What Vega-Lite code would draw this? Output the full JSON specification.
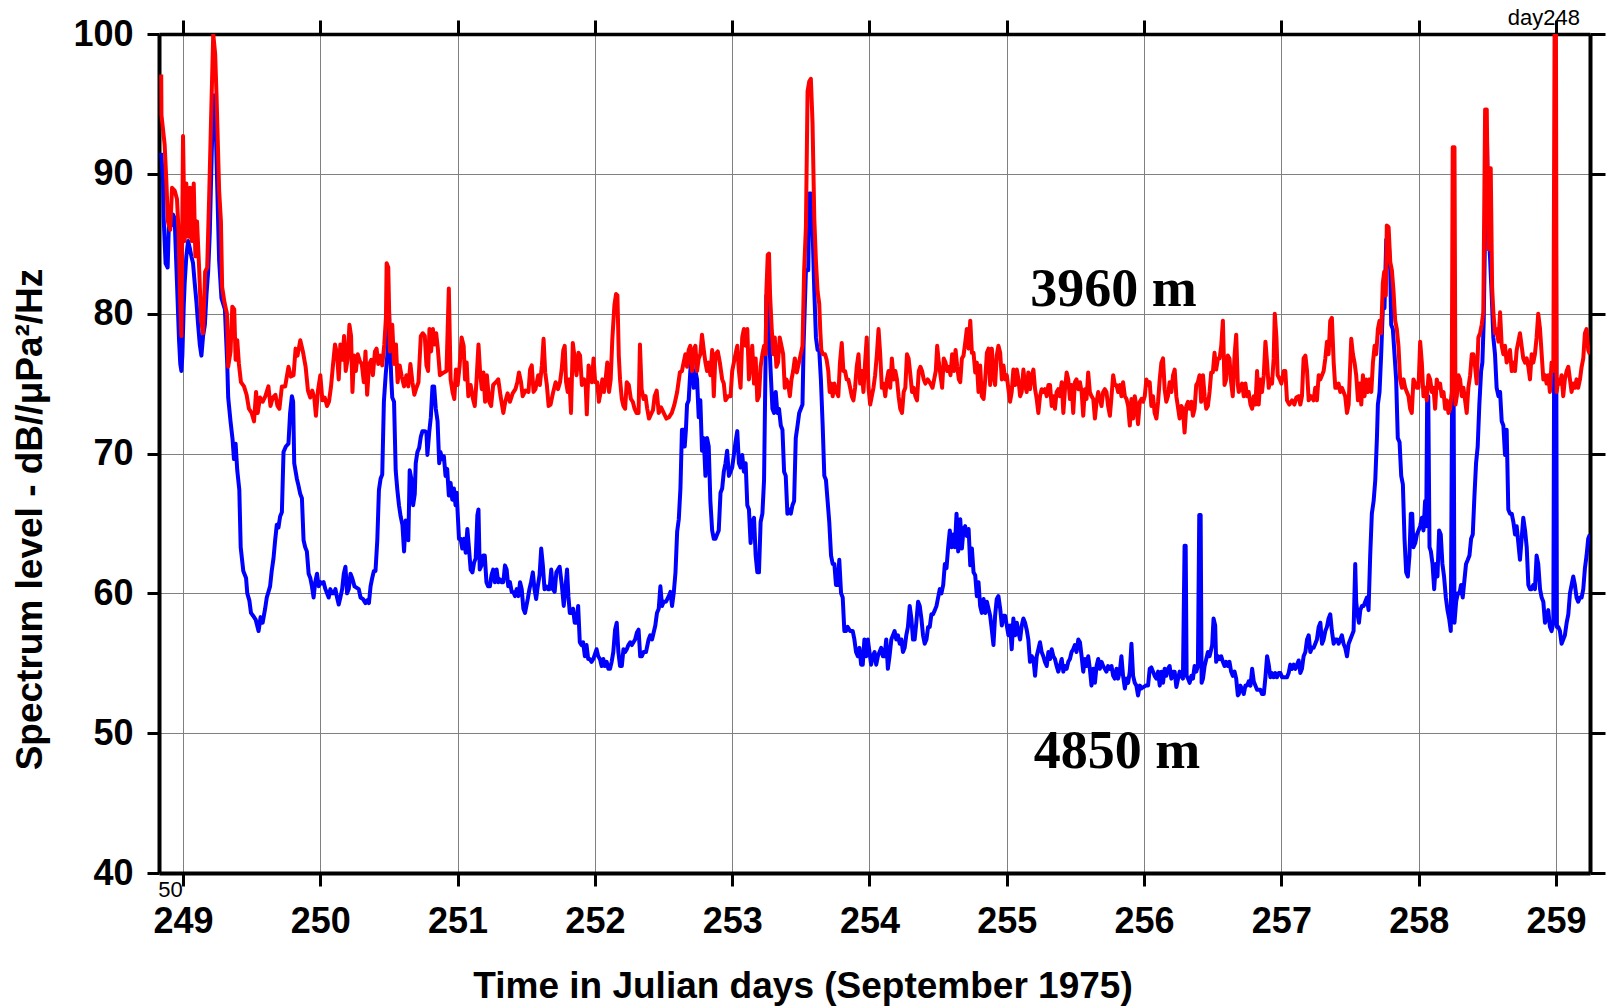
{
"$schema":"https://vega.github.io/schema/vega-lite/v6.json",
"width":1431,"height":839,
"autosize":{"type":"none"},
"padding":{"left":159,"top":34,"right":18,"bottom":133},
"background":"white",
"config":{"view":{"stroke":null},"font":"Liberation Sans"},
"datasets":{
"deep":[
{"t":248.841,"v":91.5},{"t":248.854,"v":89.6},{"t":248.859,"v":86.8},{"t":248.873,"v":83.6},{"t":248.888,"v":83.3},{"t":248.898,"v":86.8},{"t":248.915,"v":86.3},{"t":248.927,"v":87.1},{"t":248.939,"v":86.8},{"t":248.946,"v":84.9},{"t":248.956,"v":82.2},{"t":248.971,"v":78.1},{"t":248.980,"v":76.4},{"t":248.988,"v":75.9},{"t":248.995,"v":77.0},{"t":249.005,"v":80.5},{"t":249.012,"v":82.2},{"t":249.024,"v":84.1},{"t":249.037,"v":85.2},{"t":249.049,"v":84.7},{"t":249.061,"v":84.1},{"t":249.073,"v":83.6},{"t":249.085,"v":82.2},{"t":249.098,"v":80.8},{"t":249.110,"v":79.2},{"t":249.122,"v":77.8},{"t":249.134,"v":77.0},{"t":249.146,"v":78.4},{"t":249.159,"v":79.2},{"t":249.171,"v":81.4},{"t":249.183,"v":83.0},{"t":249.195,"v":85.8},{"t":249.207,"v":90.7},{"t":249.220,"v":95.6},{"t":249.234,"v":95.6},{"t":249.241,"v":92.3},{"t":249.263,"v":83.8},{"t":249.280,"v":81.1},{"t":249.305,"v":80.3},{"t":249.322,"v":76.4},{"t":249.329,"v":74.0},{"t":249.346,"v":72.3},{"t":249.361,"v":71.0},{"t":249.371,"v":69.6},{"t":249.383,"v":70.7},{"t":249.395,"v":68.8},{"t":249.410,"v":67.4},{"t":249.420,"v":63.3},{"t":249.439,"v":61.6},{"t":249.459,"v":61.1},{"t":249.468,"v":60.0},{"t":249.483,"v":59.5},{"t":249.495,"v":58.6},{"t":249.510,"v":58.4},{"t":249.530,"v":58.1},{"t":249.550,"v":57.3},{"t":249.565,"v":58.3},{"t":249.580,"v":57.9},{"t":249.598,"v":58.9},{"t":249.610,"v":59.7},{"t":249.634,"v":60.5},{"t":249.646,"v":61.6},{"t":249.659,"v":62.5},{"t":249.671,"v":63.8},{"t":249.683,"v":64.9},{"t":249.695,"v":64.7},{"t":249.707,"v":65.5},{"t":249.720,"v":65.8},{"t":249.732,"v":70.1},{"t":249.749,"v":70.5},{"t":249.768,"v":70.7},{"t":249.780,"v":72.9},{"t":249.793,"v":74.1},{"t":249.802,"v":73.7},{"t":249.810,"v":69.3},{"t":249.829,"v":68.2},{"t":249.841,"v":67.7},{"t":249.854,"v":67.1},{"t":249.866,"v":66.8},{"t":249.878,"v":63.8},{"t":249.890,"v":63.3},{"t":249.902,"v":63.0},{"t":249.915,"v":61.4},{"t":249.927,"v":61.1},{"t":249.939,"v":60.5},{"t":249.951,"v":59.7},{"t":249.963,"v":60.8},{"t":249.976,"v":61.4},{"t":249.988,"v":60.5},{"t":250.000,"v":60.8},{"t":250.012,"v":60.7},{"t":250.024,"v":60.8},{"t":250.037,"v":60.3},{"t":250.049,"v":60.0},{"t":250.061,"v":59.7},{"t":250.073,"v":60.3},{"t":250.085,"v":60.0},{"t":250.098,"v":60.0},{"t":250.110,"v":60.3},{"t":250.122,"v":59.7},{"t":250.134,"v":59.2},{"t":250.146,"v":59.7},{"t":250.159,"v":60.3},{"t":250.171,"v":61.4},{"t":250.183,"v":61.9},{"t":250.195,"v":60.0},{"t":250.207,"v":60.3},{"t":250.220,"v":61.4},{"t":250.232,"v":61.1},{"t":250.249,"v":60.5},{"t":250.280,"v":60.3},{"t":250.293,"v":59.7},{"t":250.310,"v":59.6},{"t":250.329,"v":59.3},{"t":250.341,"v":59.5},{"t":250.354,"v":59.3},{"t":250.366,"v":60.5},{"t":250.378,"v":61.1},{"t":250.390,"v":61.6},{"t":250.402,"v":61.6},{"t":250.415,"v":63.8},{"t":250.427,"v":67.4},{"t":250.439,"v":68.2},{"t":250.451,"v":68.5},{"t":250.463,"v":73.7},{"t":250.476,"v":75.6},{"t":250.488,"v":77.0},{"t":250.500,"v":80.3},{"t":250.507,"v":78.1},{"t":250.517,"v":75.3},{"t":250.524,"v":74.0},{"t":250.537,"v":73.7},{"t":250.549,"v":68.8},{"t":250.561,"v":67.4},{"t":250.573,"v":66.3},{"t":250.585,"v":65.5},{"t":250.598,"v":64.9},{"t":250.610,"v":63.0},{"t":250.622,"v":65.2},{"t":250.634,"v":64.7},{"t":250.641,"v":63.8},{"t":250.651,"v":68.8},{"t":250.663,"v":68.2},{"t":250.676,"v":66.3},{"t":250.688,"v":67.1},{"t":250.695,"v":69.3},{"t":250.707,"v":70.1},{"t":250.720,"v":70.4},{"t":250.732,"v":71.2},{"t":250.744,"v":71.6},{"t":250.761,"v":71.6},{"t":250.773,"v":71.5},{"t":250.780,"v":69.9},{"t":250.793,"v":71.5},{"t":250.805,"v":72.6},{"t":250.817,"v":74.8},{"t":250.829,"v":74.8},{"t":250.841,"v":73.2},{"t":250.854,"v":72.3},{"t":250.866,"v":69.3},
{"t":250.875,"v":70.1},{"t":250.888,"v":69.6},{"t":250.900,"v":69.8},{"t":250.912,"v":68.4},{"t":250.924,"v":68.9},{"t":250.936,"v":67.0},{"t":250.949,"v":67.9},{"t":250.961,"v":66.7},{"t":250.973,"v":67.5},{"t":250.985,"v":66.3},{"t":250.993,"v":67.2},{"t":251.010,"v":63.9},{"t":251.022,"v":63.9},{"t":251.034,"v":63.2},{"t":251.046,"v":63.9},{"t":251.059,"v":62.9},{"t":251.071,"v":64.6},{"t":251.083,"v":63.2},{"t":251.095,"v":61.7},{"t":251.108,"v":61.5},{"t":251.120,"v":62.2},{"t":251.132,"v":62.5},{"t":251.144,"v":65.6},{"t":251.152,"v":66.0},{"t":251.161,"v":61.7},{"t":251.174,"v":62.0},{"t":251.186,"v":62.7},{"t":251.198,"v":62.7},{"t":251.210,"v":60.8},{"t":251.222,"v":60.5},{"t":251.235,"v":60.5},{"t":251.247,"v":61.3},{"t":251.259,"v":61.7},{"t":251.271,"v":60.8},{"t":251.284,"v":61.7},{"t":251.296,"v":60.8},{"t":251.308,"v":61.0},{"t":251.320,"v":60.8},{"t":251.333,"v":60.8},{"t":251.345,"v":62.0},{"t":251.357,"v":61.7},{"t":251.369,"v":60.5},{"t":251.381,"v":60.8},{"t":251.394,"v":60.1},{"t":251.406,"v":60.1},{"t":251.418,"v":59.8},{"t":251.430,"v":60.3},{"t":251.443,"v":59.8},{"t":251.455,"v":60.8},{"t":251.467,"v":60.3},{"t":251.479,"v":58.9},{"t":251.491,"v":58.6},{"t":251.511,"v":59.6},{"t":251.523,"v":60.3},{"t":251.535,"v":60.8},{"t":251.548,"v":61.5},{"t":251.560,"v":60.3},{"t":251.572,"v":59.6},{"t":251.584,"v":60.5},{"t":251.597,"v":61.3},{"t":251.609,"v":63.2},{"t":251.621,"v":62.0},{"t":251.633,"v":60.3},{"t":251.645,"v":60.5},{"t":251.658,"v":60.3},{"t":251.670,"v":60.3},{"t":251.682,"v":61.7},{"t":251.694,"v":60.3},{"t":251.707,"v":60.1},{"t":251.719,"v":61.5},{"t":251.731,"v":61.7},{"t":251.743,"v":61.9},{"t":251.760,"v":60.5},{"t":251.773,"v":59.1},{"t":251.785,"v":60.3},{"t":251.797,"v":61.7},{"t":251.807,"v":59.8},{"t":251.817,"v":58.6},{"t":251.829,"v":58.6},{"t":251.841,"v":58.9},{"t":251.853,"v":57.9},{"t":251.866,"v":57.9},{"t":251.878,"v":59.1},{"t":251.890,"v":56.5},{"t":251.902,"v":56.3},{"t":251.914,"v":56.5},{"t":251.927,"v":55.5},{"t":251.939,"v":56.3},{"t":251.951,"v":55.3},{"t":251.963,"v":55.3},{"t":251.976,"v":55.1},{"t":251.988,"v":55.3},{"t":252.012,"v":56.0},{"t":252.024,"v":55.5},{"t":252.037,"v":55.3},{"t":252.049,"v":54.8},{"t":252.061,"v":55.3},{"t":252.073,"v":54.8},{"t":252.086,"v":55.1},{"t":252.098,"v":54.6},{"t":252.110,"v":54.6},{"t":252.122,"v":55.1},{"t":252.134,"v":55.8},{"t":252.147,"v":57.4},{"t":252.159,"v":57.9},{"t":252.171,"v":55.8},{"t":252.183,"v":54.8},{"t":252.196,"v":54.8},{"t":252.208,"v":56.0},{"t":252.220,"v":55.8},{"t":252.232,"v":56.0},{"t":252.244,"v":56.3},{"t":252.257,"v":56.5},{"t":252.269,"v":56.3},{"t":252.281,"v":56.5},{"t":252.293,"v":56.7},{"t":252.306,"v":57.2},{"t":252.318,"v":57.4},{"t":252.330,"v":55.5},{"t":252.342,"v":55.5},{"t":252.355,"v":55.8},{"t":252.372,"v":55.8},{"t":252.391,"v":56.7},{"t":252.403,"v":57.0},{"t":252.416,"v":56.7},{"t":252.428,"v":57.2},{"t":252.440,"v":57.7},{"t":252.452,"v":58.6},{"t":252.465,"v":58.9},{"t":252.477,"v":60.5},{"t":252.489,"v":59.1},{"t":252.501,"v":59.4},{"t":252.518,"v":59.4},{"t":252.538,"v":59.8},{"t":252.550,"v":60.1},{"t":252.562,"v":59.1},{"t":252.575,"v":60.1},{"t":252.587,"v":61.5},{"t":252.599,"v":64.4},{"t":252.611,"v":65.3},{"t":252.623,"v":67.5},
{"t":252.634,"v":71.7},{"t":252.646,"v":71.7},{"t":252.654,"v":70.5},{"t":252.663,"v":71.7},{"t":252.671,"v":73.5},{"t":252.683,"v":73.8},{"t":252.695,"v":75.9},{"t":252.707,"v":77.1},{"t":252.720,"v":74.7},{"t":252.732,"v":75.9},{"t":252.744,"v":75.3},{"t":252.756,"v":72.6},{"t":252.768,"v":73.8},{"t":252.780,"v":70.2},{"t":252.793,"v":71.1},{"t":252.805,"v":68.4},{"t":252.817,"v":71.1},{"t":252.829,"v":70.5},{"t":252.841,"v":66.6},{"t":252.854,"v":64.5},{"t":252.866,"v":63.9},{"t":252.878,"v":63.9},{"t":252.890,"v":64.2},{"t":252.902,"v":64.5},{"t":252.915,"v":67.2},{"t":252.927,"v":67.5},{"t":252.939,"v":68.7},{"t":252.951,"v":69.3},{"t":252.963,"v":70.2},{"t":252.976,"v":68.4},{"t":252.988,"v":68.7},{"t":253.000,"v":69.0},{"t":253.012,"v":69.9},{"t":253.024,"v":70.8},{"t":253.037,"v":71.6},{"t":253.049,"v":69.3},{"t":253.061,"v":69.0},{"t":253.073,"v":69.9},{"t":253.085,"v":68.7},{"t":253.098,"v":69.3},{"t":253.110,"v":66.3},{"t":253.122,"v":66.0},{"t":253.134,"v":63.6},{"t":253.146,"v":65.1},{"t":253.159,"v":65.4},{"t":253.171,"v":62.7},{"t":253.183,"v":61.5},{"t":253.195,"v":61.5},{"t":253.207,"v":65.1},{"t":253.220,"v":65.7},{"t":253.232,"v":68.1},{"t":253.249,"v":81.3},{"t":253.259,"v":80.1},{"t":253.268,"v":78.6},{"t":253.280,"v":75.9},{"t":253.293,"v":73.2},{"t":253.305,"v":72.9},{"t":253.317,"v":74.4},{"t":253.329,"v":72.9},{"t":253.341,"v":73.2},{"t":253.354,"v":72.0},{"t":253.366,"v":71.7},{"t":253.378,"v":68.7},{"t":253.390,"v":68.4},{"t":253.402,"v":65.7},{"t":253.415,"v":66.0},{"t":253.427,"v":65.7},{"t":253.439,"v":66.3},{"t":253.451,"v":66.6},{"t":253.463,"v":71.1},{"t":253.476,"v":72.0},{"t":253.488,"v":72.9},{"t":253.512,"v":73.5},{"t":253.520,"v":77.7},{"t":253.537,"v":83.1},{"t":253.554,"v":83.1},{"t":253.561,"v":88.6},{"t":253.573,"v":88.6},{"t":253.585,"v":86.2},{"t":253.598,"v":81.6},{"t":253.610,"v":78.3},{"t":253.622,"v":77.4},{"t":253.634,"v":77.4},{"t":253.646,"v":75.3},{"t":253.659,"v":72.0},{"t":253.671,"v":68.4},{"t":253.683,"v":68.1},{"t":253.695,"v":66.6},{"t":253.707,"v":65.1},{"t":253.720,"v":62.7},{"t":253.732,"v":62.1},{"t":253.744,"v":62.1},{"t":253.756,"v":60.6},{"t":253.768,"v":60.6},{"t":253.780,"v":62.4},{"t":253.793,"v":60.0},{"t":253.805,"v":59.7},{"t":253.817,"v":57.3},{"t":253.829,"v":57.3},{"t":253.841,"v":57.6},{"t":253.859,"v":57.3},{"t":253.878,"v":57.3},{"t":253.890,"v":56.7},{"t":253.902,"v":55.8},{"t":253.915,"v":55.5},{"t":253.927,"v":56.1},{"t":253.939,"v":54.9},{"t":253.951,"v":54.9},{"t":253.963,"v":56.7},{"t":253.976,"v":55.5},{"t":253.988,"v":56.7},{"t":254.012,"v":54.9},{"t":254.024,"v":55.5},{"t":254.037,"v":55.8},{"t":254.049,"v":54.9},{"t":254.061,"v":55.5},{"t":254.073,"v":55.8},{"t":254.085,"v":56.1},{"t":254.098,"v":55.5},{"t":254.110,"v":55.5},{"t":254.122,"v":56.7},{"t":254.134,"v":54.6},{"t":254.146,"v":55.5},{"t":254.159,"v":56.7},{"t":254.171,"v":57.0},{"t":254.183,"v":57.3},{"t":254.195,"v":56.7},{"t":254.207,"v":57.0},{"t":254.220,"v":56.4},{"t":254.232,"v":56.7},{"t":254.244,"v":55.8},{"t":254.256,"v":56.1},{"t":254.268,"v":57.0},{"t":254.280,"v":57.6},{"t":254.293,"v":59.1},{"t":254.305,"v":58.2},{"t":254.317,"v":56.7},{"t":254.329,"v":56.7},{"t":254.341,"v":57.9},{"t":254.354,"v":59.4},{"t":254.366,"v":59.1},{"t":254.378,"v":58.2},{"t":254.390,"v":57.0},{"t":254.402,"v":56.4},{"t":254.415,"v":56.7},{"t":254.427,"v":57.6},{"t":254.439,"v":57.6},{"t":254.451,"v":58.5},{"t":254.463,"v":58.5},{"t":254.476,"v":58.8},{"t":254.488,"v":59.1},{"t":254.512,"v":60.3},{"t":254.524,"v":60.0},{"t":254.537,"v":60.6},{"t":254.549,"v":62.1},{"t":254.561,"v":61.8},{"t":254.573,"v":63.3},{"t":254.585,"v":64.5},{"t":254.598,"v":63.3},{"t":254.610,"v":64.2},{"t":254.622,"v":63.3},{"t":254.634,"v":65.7},{"t":254.646,"v":63.0},
{"t":254.661,"v":65.3},{"t":254.673,"v":63.2},{"t":254.685,"v":64.6},{"t":254.697,"v":64.8},{"t":254.709,"v":64.1},{"t":254.722,"v":64.6},{"t":254.734,"v":62.0},{"t":254.746,"v":63.2},{"t":254.758,"v":61.5},{"t":254.770,"v":61.3},{"t":254.782,"v":59.8},{"t":254.794,"v":60.8},{"t":254.806,"v":59.1},{"t":254.818,"v":58.6},{"t":254.831,"v":59.6},{"t":254.843,"v":58.6},{"t":254.855,"v":59.4},{"t":254.867,"v":58.9},{"t":254.879,"v":58.4},{"t":254.891,"v":57.4},{"t":254.903,"v":56.3},{"t":254.915,"v":58.4},{"t":254.927,"v":59.6},{"t":254.939,"v":59.8},{"t":254.952,"v":58.9},{"t":254.964,"v":57.7},{"t":254.976,"v":58.4},{"t":254.988,"v":58.4},{"t":255.012,"v":57.0},{"t":255.024,"v":57.7},{"t":255.036,"v":56.0},{"t":255.048,"v":58.2},{"t":255.061,"v":57.0},{"t":255.073,"v":57.9},{"t":255.085,"v":57.2},{"t":255.097,"v":56.7},{"t":255.109,"v":57.7},{"t":255.121,"v":58.2},{"t":255.133,"v":57.9},{"t":255.145,"v":57.4},{"t":255.157,"v":56.7},{"t":255.169,"v":55.1},{"t":255.182,"v":55.5},{"t":255.194,"v":55.3},{"t":255.206,"v":54.1},{"t":255.218,"v":55.5},{"t":255.230,"v":56.0},{"t":255.242,"v":56.5},{"t":255.254,"v":55.8},{"t":255.266,"v":55.5},{"t":255.278,"v":55.1},{"t":255.291,"v":54.8},{"t":255.303,"v":55.8},{"t":255.315,"v":55.3},{"t":255.327,"v":56.0},{"t":255.339,"v":55.5},{"t":255.351,"v":55.3},{"t":255.363,"v":54.8},{"t":255.375,"v":54.4},{"t":255.387,"v":54.8},{"t":255.400,"v":55.3},{"t":255.412,"v":54.4},{"t":255.424,"v":54.8},{"t":255.436,"v":54.6},{"t":255.448,"v":55.1},{"t":255.460,"v":55.3},{"t":255.472,"v":55.8},{"t":255.484,"v":56.0},{"t":255.496,"v":56.3},{"t":255.508,"v":55.8},{"t":255.521,"v":56.7},{"t":255.533,"v":56.5},{"t":255.545,"v":55.5},{"t":255.557,"v":54.4},{"t":255.569,"v":55.3},{"t":255.581,"v":54.8},{"t":255.593,"v":55.5},{"t":255.605,"v":54.6},{"t":255.617,"v":53.4},{"t":255.630,"v":54.6},{"t":255.642,"v":53.6},{"t":255.654,"v":54.8},{"t":255.666,"v":55.3},{"t":255.678,"v":54.6},{"t":255.690,"v":55.1},{"t":255.702,"v":54.8},{"t":255.714,"v":54.6},{"t":255.726,"v":54.4},{"t":255.738,"v":54.8},{"t":255.751,"v":54.6},{"t":255.763,"v":54.8},{"t":255.775,"v":54.1},{"t":255.787,"v":53.9},{"t":255.799,"v":54.6},{"t":255.811,"v":53.9},{"t":255.823,"v":54.4},{"t":255.835,"v":55.5},{"t":255.847,"v":54.1},{"t":255.860,"v":53.2},{"t":255.872,"v":53.9},{"t":255.884,"v":53.6},{"t":255.896,"v":54.4},{"t":255.908,"v":56.4},{"t":255.920,"v":54.1},{"t":255.932,"v":53.6},{"t":255.944,"v":53.4},{"t":255.956,"v":52.7},{"t":255.969,"v":53.4},{"t":255.981,"v":53.2},{"t":256.012,"v":53.4},{"t":256.029,"v":53.4},{"t":256.041,"v":54.6},{"t":256.053,"v":54.7},{"t":256.065,"v":54.4},{"t":256.077,"v":54.1},{"t":256.090,"v":53.9},{"t":256.102,"v":54.4},{"t":256.114,"v":53.4},{"t":256.126,"v":54.4},{"t":256.138,"v":53.6},{"t":256.150,"v":54.6},{"t":256.162,"v":54.1},{"t":256.174,"v":54.6},{"t":256.186,"v":54.8},{"t":256.199,"v":53.9},{"t":256.211,"v":54.4},{"t":256.223,"v":54.4},{"t":256.235,"v":53.3},{"t":256.259,"v":54.4},{"t":256.271,"v":54.1},{"t":256.283,"v":53.9},{"t":256.295,"v":63.4},{"t":256.303,"v":63.4},{"t":256.310,"v":54.1},{"t":256.320,"v":53.9},{"t":256.332,"v":53.6},{"t":256.344,"v":54.1},{"t":256.356,"v":53.9},{"t":256.368,"v":54.8},{"t":256.380,"v":54.4},{"t":256.392,"v":54.8},{"t":256.402,"v":65.6},{"t":256.412,"v":65.6},{"t":256.419,"v":53.6},{"t":256.429,"v":53.9},{"t":256.441,"v":54.8},{"t":256.453,"v":55.3},{"t":256.465,"v":55.8},{"t":256.477,"v":55.5},{"t":256.489,"v":56.0},{"t":256.496,"v":56.3},{"t":256.506,"v":58.2},{"t":256.518,"v":57.7},{"t":256.525,"v":55.1},{"t":256.538,"v":55.5},{"t":256.550,"v":55.3},{"t":256.562,"v":55.5},{"t":256.574,"v":55.1},{"t":256.586,"v":54.8},{"t":256.598,"v":55.1},{"t":256.610,"v":54.8},{"t":256.622,"v":55.1},{"t":256.634,"v":54.4},{"t":256.646,"v":54.1},{"t":256.659,"v":54.4},{"t":256.671,"v":53.9},{"t":256.683,"v":52.7},
{"t":256.690,"v":52.8},{"t":256.702,"v":53.4},{"t":256.714,"v":53.1},{"t":256.726,"v":52.8},{"t":256.738,"v":53.4},{"t":256.750,"v":53.4},{"t":256.762,"v":53.7},{"t":256.775,"v":53.4},{"t":256.787,"v":54.6},{"t":256.799,"v":53.7},{"t":256.811,"v":53.4},{"t":256.823,"v":53.1},{"t":256.835,"v":53.1},{"t":256.847,"v":53.1},{"t":256.859,"v":52.8},{"t":256.872,"v":52.8},{"t":256.884,"v":54.0},{"t":256.896,"v":55.5},{"t":256.908,"v":54.9},{"t":256.920,"v":54.0},{"t":256.932,"v":54.3},{"t":256.944,"v":54.0},{"t":256.956,"v":54.3},{"t":256.968,"v":54.0},{"t":256.981,"v":54.3},{"t":256.993,"v":54.3},{"t":257.005,"v":54.0},{"t":257.017,"v":54.0},{"t":257.029,"v":54.0},{"t":257.041,"v":54.0},{"t":257.053,"v":54.3},{"t":257.065,"v":54.9},{"t":257.078,"v":54.6},{"t":257.090,"v":54.9},{"t":257.102,"v":54.6},{"t":257.114,"v":54.9},{"t":257.126,"v":55.2},{"t":257.138,"v":54.3},{"t":257.150,"v":54.6},{"t":257.162,"v":55.5},{"t":257.175,"v":55.8},{"t":257.187,"v":56.7},{"t":257.199,"v":57.0},{"t":257.211,"v":55.8},{"t":257.223,"v":56.1},{"t":257.235,"v":56.1},{"t":257.247,"v":56.4},{"t":257.259,"v":56.7},{"t":257.272,"v":57.6},{"t":257.284,"v":57.9},{"t":257.296,"v":56.4},{"t":257.308,"v":56.7},{"t":257.320,"v":57.3},{"t":257.332,"v":57.6},{"t":257.344,"v":58.2},{"t":257.356,"v":58.5},{"t":257.368,"v":57.3},{"t":257.381,"v":56.4},{"t":257.393,"v":56.7},{"t":257.405,"v":56.7},{"t":257.417,"v":56.4},{"t":257.429,"v":56.7},{"t":257.441,"v":57.0},{"t":257.453,"v":56.4},{"t":257.465,"v":56.1},{"t":257.478,"v":55.5},{"t":257.490,"v":56.4},{"t":257.514,"v":57.0},{"t":257.526,"v":57.3},{"t":257.538,"v":62.1},{"t":257.545,"v":59.4},{"t":257.555,"v":58.5},{"t":257.565,"v":57.9},{"t":257.575,"v":58.8},{"t":257.587,"v":59.1},{"t":257.599,"v":59.1},{"t":257.611,"v":59.4},{"t":257.623,"v":59.7},{"t":257.635,"v":58.8},{"t":257.647,"v":62.7},{"t":257.659,"v":65.7},{"t":257.672,"v":66.6},{"t":257.684,"v":68.1},{"t":257.696,"v":71.1},{"t":257.703,"v":73.5},{"t":257.715,"v":74.4},{"t":257.727,"v":77.1},{"t":257.739,"v":80.4},{"t":257.751,"v":80.4},{"t":257.764,"v":85.3},{"t":257.781,"v":85.3},{"t":257.793,"v":83.1},{"t":257.800,"v":79.2},{"t":257.812,"v":78.9},{"t":257.824,"v":77.1},{"t":257.836,"v":75.3},{"t":257.848,"v":71.1},{"t":257.861,"v":70.8},{"t":257.873,"v":68.4},{"t":257.885,"v":67.8},{"t":257.897,"v":63.9},{"t":257.909,"v":61.5},{"t":257.921,"v":61.2},{"t":257.933,"v":62.7},{"t":257.943,"v":65.7},{"t":257.953,"v":65.7},{"t":257.962,"v":63.3},{"t":257.975,"v":63.6},{"t":257.987,"v":64.2},{"t":257.999,"v":64.5},{"t":258.011,"v":64.8},{"t":258.023,"v":65.4},{"t":258.035,"v":64.5},{"t":258.047,"v":66.6},{"t":258.055,"v":64.8},{"t":258.062,"v":74.1},{"t":258.070,"v":74.1},{"t":258.079,"v":63.3},{"t":258.089,"v":63.0},{"t":258.101,"v":62.1},{"t":258.113,"v":60.3},{"t":258.125,"v":62.1},{"t":258.137,"v":61.2},{"t":258.149,"v":64.5},{"t":258.161,"v":64.2},{"t":258.173,"v":62.1},{"t":258.185,"v":61.2},{"t":258.198,"v":59.7},{"t":258.210,"v":58.8},{"t":258.222,"v":58.2},{"t":258.234,"v":57.3},{"t":258.246,"v":78.6},{"t":258.253,"v":78.6},{"t":258.261,"v":57.9},{"t":258.273,"v":59.4},{"t":258.285,"v":60.0},{"t":258.297,"v":60.0},{"t":258.309,"v":60.6},{"t":258.321,"v":59.7},{"t":258.333,"v":60.9},{"t":258.345,"v":62.1},{"t":258.358,"v":62.4},{"t":258.370,"v":62.7},{"t":258.382,"v":63.9},{"t":258.394,"v":64.2},{"t":258.406,"v":66.9},{"t":258.418,"v":69.3},{"t":258.430,"v":70.5},{"t":258.442,"v":73.5},{"t":258.455,"v":75.9},{"t":258.464,"v":76.5},{"t":258.474,"v":79.5},{"t":258.484,"v":86.2},{"t":258.491,"v":92.2},{"t":258.498,"v":92.2},{"t":258.508,"v":86.2},{"t":258.520,"v":84.0},{"t":258.532,"v":81.3},{"t":258.544,"v":78.3},{"t":258.556,"v":77.1},{"t":258.568,"v":74.7},{"t":258.581,"v":74.1},{"t":258.593,"v":74.4},{"t":258.605,"v":72.3},{"t":258.617,"v":72.0},{"t":258.629,"v":69.9},{"t":258.641,"v":71.7},{"t":258.653,"v":66.0},{"t":258.665,"v":65.7},{"t":258.678,"v":65.7},{"t":258.690,"v":65.1},{"t":258.702,"v":64.2},{"t":258.714,"v":64.8},{"t":258.726,"v":63.6},{"t":258.738,"v":62.4},{"t":258.762,"v":65.4},{"t":258.775,"v":64.5},{"t":258.787,"v":63.3},{"t":258.799,"v":60.6},{"t":258.811,"v":60.3},{"t":258.823,"v":60.3},{"t":258.835,"v":60.6},{"t":258.847,"v":60.3},{"t":258.859,"v":62.7},{"t":258.871,"v":62.1},{"t":258.884,"v":60.3},{"t":258.896,"v":59.7},{"t":258.908,"v":59.4},{"t":258.920,"v":57.9},{"t":258.932,"v":58.2},{"t":258.944,"v":58.8},{"t":258.956,"v":57.6},{"t":258.968,"v":57.3},{"t":258.981,"v":57.9},{"t":258.990,"v":86.8},{"t":259.000,"v":86.8},{"t":259.007,"v":57.6},{"t":259.017,"v":57.6},{"t":259.029,"v":57.3},{"t":259.041,"v":56.4},{"t":259.053,"v":56.7},{"t":259.065,"v":57.0},{"t":259.078,"v":57.9},{"t":259.090,"v":58.5},{"t":259.102,"v":60.0},{"t":259.114,"v":60.6},{"t":259.126,"v":61.2},{"t":259.138,"v":60.6},{"t":259.150,"v":59.7},{"t":259.162,"v":59.4},{"t":259.175,"v":59.7},{"t":259.187,"v":59.7},{"t":259.199,"v":60.3},{"t":259.211,"v":61.8},{"t":259.223,"v":62.7},{"t":259.235,"v":63.9},{"t":259.247,"v":64.2}
],
"shallow":[
{"t":248.841,"v":97.1},{"t":248.843,"v":94.2},{"t":248.866,"v":92.1},{"t":248.878,"v":89.6},{"t":248.890,"v":86.6},{"t":248.907,"v":86.0},{"t":248.920,"v":89.0},{"t":248.939,"v":88.8},{"t":248.956,"v":88.2},{"t":248.968,"v":85.8},{"t":248.978,"v":81.4},{"t":248.988,"v":78.4},{"t":249.000,"v":92.7},{"t":249.012,"v":85.2},{"t":249.024,"v":89.3},{"t":249.039,"v":85.5},{"t":249.051,"v":89.0},{"t":249.063,"v":85.2},{"t":249.078,"v":89.3},{"t":249.090,"v":84.1},{"t":249.102,"v":86.6},{"t":249.117,"v":83.3},{"t":249.132,"v":79.5},{"t":249.146,"v":78.6},{"t":249.161,"v":83.0},{"t":249.176,"v":83.3},{"t":249.190,"v":88.2},{"t":249.205,"v":94.2},{"t":249.220,"v":100.0},{"t":249.234,"v":98.6},{"t":249.244,"v":95.6},{"t":249.263,"v":88.8},{"t":249.276,"v":86.6},{"t":249.285,"v":81.9},{"t":249.302,"v":80.8},{"t":249.320,"v":80.0},{"t":249.329,"v":76.2},{"t":249.346,"v":77.3},{"t":249.359,"v":80.5},{"t":249.373,"v":80.3},{"t":249.383,"v":76.7},{"t":249.395,"v":78.1},{"t":249.407,"v":76.4},{"t":249.422,"v":75.1},{"t":249.444,"v":74.8},{"t":249.463,"v":74.2},{"t":249.480,"v":73.2},{"t":249.500,"v":72.9},{"t":249.517,"v":72.3},{"t":249.532,"v":74.4},{"t":249.544,"v":72.9},{"t":249.561,"v":74.0},{"t":249.580,"v":73.7},{"t":249.600,"v":74.1},{"t":249.622,"v":74.8},{"t":249.637,"v":73.4},{"t":249.654,"v":74.0},{"t":249.673,"v":74.2},{"t":249.688,"v":73.4},{"t":249.702,"v":73.2},{"t":249.720,"v":74.8},{"t":249.744,"v":74.8},{"t":249.768,"v":76.2},{"t":249.785,"v":75.5},{"t":249.805,"v":75.6},{"t":249.820,"v":77.5},{"t":249.834,"v":77.0},{"t":249.854,"v":78.1},{"t":249.873,"v":77.3},{"t":249.893,"v":76.2},{"t":249.910,"v":74.5},{"t":249.927,"v":74.0},{"t":249.941,"v":74.5},{"t":249.956,"v":74.0},{"t":249.968,"v":72.7},{"t":249.983,"v":74.5},{"t":250.000,"v":75.6},{"t":250.015,"v":73.8},{"t":250.032,"v":74.0},{"t":250.049,"v":73.4},{"t":250.063,"v":73.7},{"t":250.078,"v":74.8},{"t":250.093,"v":76.4},{"t":250.107,"v":77.8},{"t":250.122,"v":77.1},{"t":250.134,"v":75.3},{"t":250.146,"v":77.8},{"t":250.161,"v":76.7},{"t":250.173,"v":78.4},{"t":250.185,"v":75.9},{"t":250.198,"v":76.7},{"t":250.212,"v":79.2},{"t":250.224,"v":78.4},{"t":250.234,"v":74.4},{"t":250.246,"v":77.0},{"t":250.259,"v":75.9},{"t":250.273,"v":77.1},{"t":250.288,"v":76.6},{"t":250.302,"v":76.4},{"t":250.317,"v":75.1},{"t":250.329,"v":77.3},{"t":250.341,"v":74.2},{"t":250.356,"v":76.4},{"t":250.371,"v":76.7},{"t":250.383,"v":75.6},{"t":250.398,"v":77.3},{"t":250.410,"v":77.5},{"t":250.422,"v":76.4},{"t":250.437,"v":77.0},{"t":250.451,"v":76.3},{"t":250.466,"v":77.8},{"t":250.478,"v":79.7},{"t":250.483,"v":83.6},{"t":250.495,"v":83.3},{"t":250.507,"v":77.3},{"t":250.524,"v":79.2},{"t":250.537,"v":76.4},{"t":250.551,"v":77.8},{"t":250.563,"v":75.1},{"t":250.578,"v":76.3},{"t":250.593,"v":75.5},{"t":250.610,"v":74.8},{"t":250.627,"v":75.6},{"t":250.641,"v":74.8},{"t":250.656,"v":76.4},{"t":250.671,"v":75.1},{"t":250.685,"v":74.2},{"t":250.700,"v":74.7},{"t":250.715,"v":75.1},{"t":250.732,"v":78.4},{"t":250.746,"v":78.6},{"t":250.761,"v":78.4},{"t":250.773,"v":76.3},{"t":250.785,"v":75.9},{"t":250.795,"v":78.9},{"t":250.807,"v":77.3},{"t":250.820,"v":78.9},{"t":250.832,"v":77.8},{"t":250.844,"v":78.6},{"t":250.856,"v":77.5},{"t":250.871,"v":75.6},
{"t":250.900,"v":75.8},{"t":250.919,"v":75.9},{"t":250.936,"v":81.8},{"t":250.949,"v":75.3},{"t":250.963,"v":74.4},{"t":250.976,"v":73.9},{"t":250.988,"v":76.0},{"t":251.000,"v":74.9},{"t":251.015,"v":76.3},{"t":251.029,"v":78.3},{"t":251.044,"v":77.7},{"t":251.054,"v":75.3},{"t":251.066,"v":76.5},{"t":251.078,"v":74.1},{"t":251.095,"v":74.9},{"t":251.112,"v":73.9},{"t":251.125,"v":73.4},{"t":251.137,"v":75.1},{"t":251.152,"v":77.8},{"t":251.164,"v":75.8},{"t":251.176,"v":74.6},{"t":251.188,"v":75.8},{"t":251.200,"v":73.7},{"t":251.213,"v":75.6},{"t":251.230,"v":73.7},{"t":251.244,"v":73.4},{"t":251.259,"v":74.9},{"t":251.279,"v":75.1},{"t":251.296,"v":75.3},{"t":251.313,"v":74.1},{"t":251.333,"v":72.9},{"t":251.347,"v":73.7},{"t":251.364,"v":74.3},{"t":251.381,"v":73.7},{"t":251.401,"v":74.3},{"t":251.421,"v":74.6},{"t":251.435,"v":75.1},{"t":251.447,"v":75.8},{"t":251.462,"v":75.1},{"t":251.474,"v":74.1},{"t":251.494,"v":74.5},{"t":251.516,"v":74.4},{"t":251.528,"v":76.0},{"t":251.540,"v":76.3},{"t":251.553,"v":74.4},{"t":251.567,"v":74.6},{"t":251.587,"v":75.6},{"t":251.599,"v":74.9},{"t":251.614,"v":76.3},{"t":251.626,"v":78.2},{"t":251.638,"v":75.8},{"t":251.650,"v":74.9},{"t":251.663,"v":73.4},{"t":251.677,"v":73.5},{"t":251.694,"v":74.3},{"t":251.714,"v":75.1},{"t":251.731,"v":74.6},{"t":251.746,"v":75.1},{"t":251.758,"v":76.0},{"t":251.770,"v":77.4},{"t":251.780,"v":77.7},{"t":251.790,"v":75.1},{"t":251.802,"v":74.4},{"t":251.814,"v":75.3},{"t":251.826,"v":72.9},{"t":251.839,"v":77.9},{"t":251.853,"v":76.8},{"t":251.866,"v":75.6},{"t":251.880,"v":77.2},{"t":251.892,"v":77.0},{"t":251.905,"v":74.9},{"t":251.922,"v":75.3},{"t":251.932,"v":75.1},{"t":251.941,"v":72.8},{"t":251.954,"v":76.3},{"t":251.966,"v":75.6},{"t":251.978,"v":75.1},{"t":251.990,"v":76.8},{"t":252.002,"v":75.1},{"t":252.017,"v":75.1},{"t":252.029,"v":73.7},{"t":252.042,"v":74.4},{"t":252.054,"v":75.3},{"t":252.066,"v":74.4},{"t":252.078,"v":75.3},{"t":252.090,"v":76.5},{"t":252.103,"v":74.4},{"t":252.115,"v":75.3},{"t":252.127,"v":78.2},{"t":252.142,"v":80.6},{"t":252.154,"v":81.4},{"t":252.164,"v":81.3},{"t":252.174,"v":77.0},{"t":252.183,"v":75.3},{"t":252.196,"v":73.9},{"t":252.208,"v":73.4},{"t":252.220,"v":73.2},{"t":252.232,"v":75.1},{"t":252.247,"v":74.9},{"t":252.262,"v":73.9},{"t":252.276,"v":73.7},{"t":252.289,"v":73.2},{"t":252.303,"v":72.9},{"t":252.318,"v":72.9},{"t":252.328,"v":77.8},{"t":252.340,"v":74.6},{"t":252.355,"v":73.9},{"t":252.369,"v":74.1},{"t":252.381,"v":73.2},{"t":252.394,"v":72.5},{"t":252.408,"v":72.8},{"t":252.423,"v":73.1},{"t":252.435,"v":74.1},{"t":252.450,"v":74.5},{"t":252.465,"v":72.9},{"t":252.482,"v":73.3},{"t":252.501,"v":72.9},{"t":252.521,"v":72.5},{"t":252.540,"v":72.6},{"t":252.560,"v":72.9},{"t":252.579,"v":73.5},{"t":252.599,"v":74.4},{"t":252.619,"v":75.8},
{"t":252.634,"v":75.9},{"t":252.646,"v":76.5},{"t":252.659,"v":77.1},{"t":252.671,"v":76.2},{"t":252.683,"v":77.4},{"t":252.695,"v":77.7},{"t":252.707,"v":75.9},{"t":252.720,"v":77.4},{"t":252.732,"v":77.7},{"t":252.744,"v":75.9},{"t":252.756,"v":76.8},{"t":252.768,"v":77.1},{"t":252.780,"v":78.5},{"t":252.793,"v":77.4},{"t":252.805,"v":76.5},{"t":252.817,"v":75.9},{"t":252.829,"v":76.5},{"t":252.841,"v":75.6},{"t":252.854,"v":77.4},{"t":252.866,"v":74.1},{"t":252.878,"v":77.1},{"t":252.895,"v":77.3},{"t":252.910,"v":76.5},{"t":252.927,"v":75.3},{"t":252.939,"v":75.0},{"t":252.951,"v":73.8},{"t":252.971,"v":74.1},{"t":252.988,"v":74.1},{"t":253.000,"v":75.9},{"t":253.012,"v":76.5},{"t":253.024,"v":77.1},{"t":253.037,"v":77.7},{"t":253.049,"v":75.9},{"t":253.061,"v":74.7},{"t":253.073,"v":78.3},{"t":253.085,"v":78.9},{"t":253.098,"v":77.7},{"t":253.110,"v":78.9},{"t":253.122,"v":75.3},{"t":253.134,"v":76.5},{"t":253.146,"v":77.7},{"t":253.159,"v":75.0},{"t":253.171,"v":76.8},{"t":253.183,"v":73.8},{"t":253.195,"v":74.1},{"t":253.207,"v":76.2},{"t":253.220,"v":77.1},{"t":253.232,"v":77.7},{"t":253.244,"v":77.1},{"t":253.249,"v":81.6},{"t":253.259,"v":84.2},{"t":253.268,"v":84.3},{"t":253.276,"v":81.3},{"t":253.288,"v":78.9},{"t":253.300,"v":77.1},{"t":253.310,"v":78.3},{"t":253.322,"v":76.2},{"t":253.334,"v":76.5},{"t":253.346,"v":78.3},{"t":253.359,"v":77.7},{"t":253.371,"v":77.1},{"t":253.383,"v":74.7},{"t":253.395,"v":75.3},{"t":253.407,"v":75.0},{"t":253.420,"v":74.1},{"t":253.432,"v":75.3},{"t":253.444,"v":75.9},{"t":253.456,"v":76.8},{"t":253.471,"v":75.8},{"t":253.512,"v":77.7},{"t":253.524,"v":83.1},{"t":253.537,"v":86.2},{"t":253.549,"v":95.9},{"t":253.561,"v":96.6},{"t":253.573,"v":96.8},{"t":253.585,"v":93.7},{"t":253.598,"v":86.8},{"t":253.610,"v":83.7},{"t":253.622,"v":81.6},{"t":253.634,"v":80.7},{"t":253.641,"v":78.9},{"t":253.649,"v":77.4},{"t":253.661,"v":77.1},{"t":253.676,"v":77.1},{"t":253.688,"v":76.7},{"t":253.700,"v":75.9},{"t":253.710,"v":74.4},{"t":253.720,"v":75.0},{"t":253.732,"v":74.1},{"t":253.744,"v":75.0},{"t":253.759,"v":74.4},{"t":253.773,"v":74.1},{"t":253.785,"v":76.5},{"t":253.798,"v":77.9},{"t":253.810,"v":75.9},{"t":253.822,"v":75.9},{"t":253.834,"v":75.3},{"t":253.846,"v":75.3},{"t":253.859,"v":74.7},{"t":253.871,"v":74.1},{"t":253.883,"v":73.8},{"t":253.895,"v":74.7},{"t":253.907,"v":76.2},{"t":253.920,"v":77.1},{"t":253.932,"v":75.0},{"t":253.944,"v":75.9},{"t":253.956,"v":74.4},{"t":253.968,"v":76.5},{"t":253.980,"v":78.3},{"t":253.993,"v":74.7},{"t":254.005,"v":73.5},{"t":254.017,"v":74.1},{"t":254.029,"v":74.7},{"t":254.041,"v":75.6},{"t":254.054,"v":77.1},{"t":254.066,"v":78.9},{"t":254.078,"v":77.1},{"t":254.090,"v":74.7},{"t":254.102,"v":75.0},{"t":254.115,"v":74.1},{"t":254.127,"v":75.3},{"t":254.139,"v":75.9},{"t":254.151,"v":74.7},{"t":254.163,"v":76.8},{"t":254.176,"v":75.3},{"t":254.188,"v":75.9},{"t":254.200,"v":75.3},{"t":254.212,"v":74.1},{"t":254.224,"v":73.2},{"t":254.237,"v":72.9},{"t":254.249,"v":74.4},{"t":254.261,"v":74.7},{"t":254.273,"v":77.1},{"t":254.285,"v":76.8},{"t":254.298,"v":75.6},{"t":254.310,"v":74.4},{"t":254.322,"v":74.7},{"t":254.334,"v":74.1},{"t":254.346,"v":73.8},{"t":254.359,"v":75.9},{"t":254.371,"v":76.2},{"t":254.383,"v":75.9},{"t":254.395,"v":75.3},{"t":254.407,"v":75.0},{"t":254.424,"v":75.3},{"t":254.444,"v":75.0},{"t":254.459,"v":74.7},{"t":254.471,"v":75.3},{"t":254.483,"v":75.9},{"t":254.493,"v":77.7},{"t":254.505,"v":76.5},{"t":254.517,"v":75.6},{"t":254.529,"v":74.7},{"t":254.541,"v":76.8},{"t":254.554,"v":76.5},{"t":254.566,"v":75.9},{"t":254.578,"v":76.2},{"t":254.590,"v":75.6},{"t":254.602,"v":77.1},{"t":254.615,"v":75.9},{"t":254.627,"v":77.4},{"t":254.639,"v":76.2},{"t":254.651,"v":75.3},
{"t":254.661,"v":75.1},{"t":254.673,"v":76.8},{"t":254.685,"v":77.0},{"t":254.697,"v":77.9},{"t":254.709,"v":78.9},{"t":254.722,"v":77.5},{"t":254.734,"v":79.5},{"t":254.746,"v":77.2},{"t":254.758,"v":77.2},{"t":254.770,"v":75.8},{"t":254.782,"v":76.5},{"t":254.794,"v":74.4},{"t":254.806,"v":76.3},{"t":254.818,"v":74.1},{"t":254.831,"v":73.9},{"t":254.843,"v":75.3},{"t":254.855,"v":77.2},{"t":254.867,"v":77.5},{"t":254.879,"v":74.9},{"t":254.891,"v":77.5},{"t":254.903,"v":75.6},{"t":254.915,"v":74.9},{"t":254.927,"v":77.0},{"t":254.939,"v":77.7},{"t":254.952,"v":77.2},{"t":254.964,"v":75.3},{"t":254.976,"v":76.3},{"t":254.988,"v":75.3},{"t":255.000,"v":75.6},{"t":255.012,"v":74.6},{"t":255.024,"v":73.7},{"t":255.036,"v":74.4},{"t":255.048,"v":76.0},{"t":255.061,"v":74.9},{"t":255.073,"v":76.0},{"t":255.085,"v":75.3},{"t":255.097,"v":74.1},{"t":255.109,"v":74.4},{"t":255.121,"v":76.0},{"t":255.133,"v":74.9},{"t":255.145,"v":74.4},{"t":255.157,"v":75.8},{"t":255.169,"v":74.6},{"t":255.182,"v":75.6},{"t":255.194,"v":76.0},{"t":255.206,"v":74.6},{"t":255.218,"v":73.9},{"t":255.230,"v":72.9},{"t":255.242,"v":74.1},{"t":255.254,"v":74.6},{"t":255.266,"v":74.4},{"t":255.278,"v":74.6},{"t":255.291,"v":74.1},{"t":255.303,"v":74.9},{"t":255.315,"v":74.9},{"t":255.327,"v":73.4},{"t":255.339,"v":74.1},{"t":255.351,"v":73.2},{"t":255.363,"v":74.4},{"t":255.375,"v":74.6},{"t":255.387,"v":74.1},{"t":255.400,"v":75.1},{"t":255.412,"v":72.9},{"t":255.424,"v":74.6},{"t":255.436,"v":75.8},{"t":255.448,"v":75.3},{"t":255.460,"v":73.9},{"t":255.472,"v":74.9},{"t":255.484,"v":72.9},{"t":255.496,"v":75.1},{"t":255.508,"v":75.3},{"t":255.521,"v":74.6},{"t":255.533,"v":75.1},{"t":255.545,"v":74.4},{"t":255.557,"v":72.7},{"t":255.569,"v":74.6},{"t":255.581,"v":73.9},{"t":255.593,"v":75.8},{"t":255.605,"v":74.4},{"t":255.617,"v":74.1},{"t":255.630,"v":73.9},{"t":255.642,"v":72.5},{"t":255.654,"v":73.7},{"t":255.666,"v":74.4},{"t":255.678,"v":73.9},{"t":255.690,"v":73.4},{"t":255.702,"v":74.4},{"t":255.714,"v":74.6},{"t":255.726,"v":74.4},{"t":255.738,"v":73.4},{"t":255.751,"v":72.7},{"t":255.763,"v":74.1},{"t":255.775,"v":75.6},{"t":255.787,"v":74.9},{"t":255.799,"v":74.9},{"t":255.811,"v":74.4},{"t":255.823,"v":74.9},{"t":255.835,"v":74.1},{"t":255.847,"v":75.1},{"t":255.860,"v":74.1},{"t":255.872,"v":73.9},{"t":255.884,"v":73.4},{"t":255.896,"v":72.0},{"t":255.908,"v":73.9},{"t":255.920,"v":72.5},{"t":255.932,"v":74.1},{"t":255.944,"v":73.4},{"t":255.956,"v":72.1},{"t":255.969,"v":73.7},{"t":255.981,"v":73.9},{"t":255.993,"v":73.7},{"t":256.005,"v":74.1},{"t":256.017,"v":75.3},{"t":256.029,"v":74.9},{"t":256.041,"v":75.1},{"t":256.053,"v":73.4},{"t":256.065,"v":74.1},{"t":256.077,"v":72.9},{"t":256.090,"v":72.5},{"t":256.102,"v":73.7},{"t":256.114,"v":75.3},{"t":256.126,"v":76.5},{"t":256.138,"v":76.8},{"t":256.150,"v":74.6},{"t":256.162,"v":73.7},{"t":256.174,"v":74.1},{"t":256.186,"v":75.1},{"t":256.199,"v":74.4},{"t":256.211,"v":75.6},{"t":256.223,"v":76.0},{"t":256.235,"v":74.1},{"t":256.259,"v":72.5},{"t":256.271,"v":73.4},{"t":256.283,"v":73.2},{"t":256.295,"v":71.5},{"t":256.308,"v":73.4},{"t":256.320,"v":73.7},{"t":256.332,"v":73.2},{"t":256.344,"v":73.7},{"t":256.356,"v":72.7},{"t":256.368,"v":73.2},{"t":256.380,"v":74.9},{"t":256.392,"v":75.1},{"t":256.404,"v":75.6},{"t":256.416,"v":73.7},{"t":256.429,"v":75.6},{"t":256.441,"v":74.1},{"t":256.453,"v":73.2},{"t":256.465,"v":73.4},{"t":256.477,"v":74.4},{"t":256.489,"v":75.8},{"t":256.501,"v":75.8},{"t":256.513,"v":77.2},{"t":256.525,"v":76.0},{"t":256.538,"v":76.8},{"t":256.550,"v":76.8},{"t":256.562,"v":77.7},{"t":256.574,"v":79.5},{"t":256.586,"v":74.9},{"t":256.598,"v":75.3},{"t":256.610,"v":77.0},{"t":256.622,"v":76.8},{"t":256.634,"v":75.1},{"t":256.646,"v":74.1},{"t":256.659,"v":77.0},{"t":256.671,"v":78.5},{"t":256.683,"v":74.9},
{"t":256.690,"v":74.4},{"t":256.702,"v":74.7},{"t":256.714,"v":75.0},{"t":256.726,"v":74.1},{"t":256.738,"v":75.0},{"t":256.750,"v":74.1},{"t":256.762,"v":74.4},{"t":256.775,"v":73.5},{"t":256.787,"v":73.2},{"t":256.799,"v":74.1},{"t":256.811,"v":73.5},{"t":256.823,"v":75.9},{"t":256.835,"v":73.5},{"t":256.847,"v":75.3},{"t":256.859,"v":74.4},{"t":256.872,"v":75.6},{"t":256.884,"v":78.0},{"t":256.896,"v":76.5},{"t":256.908,"v":74.7},{"t":256.920,"v":75.3},{"t":256.932,"v":75.0},{"t":256.944,"v":76.8},{"t":256.952,"v":80.0},{"t":256.964,"v":78.3},{"t":256.973,"v":75.6},{"t":256.988,"v":75.3},{"t":257.000,"v":75.0},{"t":257.017,"v":75.9},{"t":257.029,"v":75.9},{"t":257.041,"v":73.8},{"t":257.058,"v":73.5},{"t":257.078,"v":73.8},{"t":257.095,"v":73.5},{"t":257.109,"v":74.0},{"t":257.126,"v":74.1},{"t":257.138,"v":73.5},{"t":257.150,"v":74.1},{"t":257.162,"v":76.8},{"t":257.175,"v":77.0},{"t":257.187,"v":75.9},{"t":257.199,"v":73.8},{"t":257.216,"v":74.1},{"t":257.235,"v":73.8},{"t":257.247,"v":74.7},{"t":257.259,"v":73.8},{"t":257.272,"v":75.6},{"t":257.284,"v":75.3},{"t":257.296,"v":75.6},{"t":257.308,"v":75.9},{"t":257.320,"v":76.8},{"t":257.332,"v":78.0},{"t":257.344,"v":77.1},{"t":257.356,"v":79.5},{"t":257.368,"v":79.7},{"t":257.381,"v":76.5},{"t":257.393,"v":74.7},{"t":257.405,"v":74.7},{"t":257.417,"v":75.0},{"t":257.429,"v":74.4},{"t":257.441,"v":74.7},{"t":257.453,"v":74.4},{"t":257.465,"v":74.1},{"t":257.478,"v":72.9},{"t":257.490,"v":73.5},{"t":257.509,"v":78.2},{"t":257.521,"v":77.1},{"t":257.533,"v":76.5},{"t":257.545,"v":75.6},{"t":257.558,"v":73.8},{"t":257.570,"v":75.0},{"t":257.582,"v":73.5},{"t":257.594,"v":75.6},{"t":257.606,"v":74.1},{"t":257.618,"v":75.3},{"t":257.630,"v":74.4},{"t":257.642,"v":75.3},{"t":257.655,"v":74.4},{"t":257.667,"v":76.5},{"t":257.679,"v":77.7},{"t":257.691,"v":77.1},{"t":257.703,"v":78.9},{"t":257.715,"v":79.5},{"t":257.727,"v":78.6},{"t":257.739,"v":82.2},{"t":257.749,"v":83.0},{"t":257.761,"v":81.3},{"t":257.768,"v":86.3},{"t":257.781,"v":86.2},{"t":257.793,"v":83.7},{"t":257.805,"v":83.1},{"t":257.817,"v":81.6},{"t":257.829,"v":79.5},{"t":257.841,"v":78.9},{"t":257.853,"v":77.7},{"t":257.865,"v":75.3},{"t":257.878,"v":74.7},{"t":257.890,"v":75.3},{"t":257.902,"v":74.7},{"t":257.914,"v":74.4},{"t":257.926,"v":74.1},{"t":257.938,"v":73.2},{"t":257.950,"v":72.9},{"t":257.962,"v":75.3},{"t":257.975,"v":75.0},{"t":257.987,"v":74.7},{"t":257.999,"v":74.7},{"t":258.011,"v":78.0},{"t":258.023,"v":76.5},{"t":258.035,"v":74.1},{"t":258.047,"v":74.7},{"t":258.059,"v":73.8},{"t":258.072,"v":75.6},{"t":258.084,"v":75.3},{"t":258.096,"v":74.4},{"t":258.108,"v":74.7},{"t":258.120,"v":73.2},{"t":258.132,"v":75.3},{"t":258.144,"v":74.7},{"t":258.156,"v":75.0},{"t":258.168,"v":74.1},{"t":258.181,"v":74.4},{"t":258.193,"v":73.2},{"t":258.205,"v":73.8},{"t":258.217,"v":72.9},{"t":258.229,"v":73.2},{"t":258.241,"v":74.4},{"t":258.248,"v":91.9},{"t":258.261,"v":91.9},{"t":258.268,"v":73.5},{"t":258.278,"v":74.1},{"t":258.290,"v":75.6},{"t":258.302,"v":75.3},{"t":258.314,"v":74.1},{"t":258.326,"v":74.7},{"t":258.338,"v":73.8},{"t":258.350,"v":72.9},{"t":258.362,"v":74.7},{"t":258.375,"v":75.6},{"t":258.387,"v":77.1},{"t":258.399,"v":77.1},{"t":258.411,"v":76.2},{"t":258.423,"v":75.0},{"t":258.435,"v":78.3},{"t":258.447,"v":78.6},{"t":258.459,"v":79.2},{"t":258.471,"v":80.1},{"t":258.484,"v":94.6},{"t":258.496,"v":94.6},{"t":258.508,"v":84.6},{"t":258.515,"v":90.4},{"t":258.525,"v":90.4},{"t":258.535,"v":81.9},{"t":258.544,"v":80.1},{"t":258.556,"v":78.6},{"t":258.568,"v":78.9},{"t":258.581,"v":78.0},{"t":258.593,"v":80.1},{"t":258.605,"v":77.7},{"t":258.617,"v":77.1},{"t":258.629,"v":77.7},{"t":258.641,"v":76.5},{"t":258.653,"v":76.8},{"t":258.665,"v":77.4},{"t":258.678,"v":75.9},{"t":258.690,"v":76.5},{"t":258.702,"v":75.9},{"t":258.714,"v":77.4},{"t":258.726,"v":78.0},{"t":258.738,"v":78.6},{"t":258.762,"v":76.8},{"t":258.775,"v":76.5},{"t":258.787,"v":76.8},{"t":258.799,"v":76.2},{"t":258.811,"v":75.3},{"t":258.823,"v":77.1},{"t":258.835,"v":76.5},{"t":258.847,"v":77.1},{"t":258.859,"v":78.3},{"t":258.871,"v":80.0},{"t":258.884,"v":78.9},{"t":258.896,"v":77.1},{"t":258.908,"v":75.3},{"t":258.920,"v":75.6},{"t":258.932,"v":75.0},{"t":258.944,"v":75.6},{"t":258.956,"v":74.4},{"t":258.968,"v":76.5},{"t":258.981,"v":75.9},{"t":258.990,"v":100.0},{"t":259.000,"v":100.0},{"t":259.005,"v":74.4},{"t":259.017,"v":75.3},{"t":259.029,"v":75.0},{"t":259.041,"v":75.6},{"t":259.053,"v":74.1},{"t":259.065,"v":75.3},{"t":259.078,"v":75.9},{"t":259.090,"v":76.2},{"t":259.102,"v":75.3},{"t":259.114,"v":74.4},{"t":259.126,"v":75.0},{"t":259.138,"v":74.7},{"t":259.150,"v":75.3},{"t":259.162,"v":74.7},{"t":259.175,"v":75.3},{"t":259.187,"v":76.2},{"t":259.199,"v":76.8},{"t":259.211,"v":78.6},{"t":259.223,"v":78.9},{"t":259.235,"v":77.4},{"t":259.247,"v":77.1}
],
"labels":[
{"label":"3960 m","t":255.777,"v":80.544,"kind":"depth"},
{"label":"4850 m","t":255.803,"v":47.496,"kind":"depth"},
{"label":"day248","t":258.912,"v":100.644,"kind":"note"},
{"label":"50","t":248.909,"v":38.283,"kind":"note"}
]
},
"layer":[
{"data":{"name":"deep"},
 "mark":{"type":"line","color":"#0000ff","strokeWidth":4,"clip":true,"strokeJoin":"round"},
 "encoding":{
  "x":{"field":"t","type":"quantitative","scale":{"domain":[248.825,259.248],"nice":false,"zero":false},
   "axis":{"orient":"bottom","values":[249,250,251,252,253,254,255,256,257,258,259],"format":"d",
    "labelFont":"Liberation Sans","labelFontSize":36,"labelFontWeight":"bold","labelColor":"black","labelBaseline":"alphabetic","labelPadding":46,"labelOverlap":false,"labelBound":false,"labelFlush":false,
    "tickSize":13,"tickWidth":3,"tickColor":"black","domainColor":"black","domainWidth":4,
    "grid":true,"gridColor":"#808080","gridWidth":1,
    "title":"Time in Julian days (September 1975)","titleFont":"Liberation Sans","titleFontSize":37,"titleFontWeight":"bold","titleColor":"black","titleX":643.5,"titleY":124,"titleAlign":"center","titleBaseline":"alphabetic"}},
  "y":{"field":"v","type":"quantitative","scale":{"domain":[40,100],"nice":false,"zero":false},
   "axis":{"orient":"left","values":[40,50,60,70,80,90,100],"format":"d",
    "labelFont":"Liberation Sans","labelFontSize":36,"labelFontWeight":"bold","labelColor":"black","labelBaseline":"middle","labelPadding":14,"labelOverlap":false,"labelBound":false,"labelFlush":false,
    "tickSize":12,"tickWidth":3,"tickColor":"black","domainColor":"black","domainWidth":4,
    "grid":true,"gridColor":"#808080","gridWidth":1,
    "title":"Spectrum level - dB//μPa²/Hz","titleFont":"Liberation Sans","titleFontSize":37,"titleFontWeight":"bold","titleColor":"black","titleAngle":-90,"titleX":-118,"titleY":485,"titleAlign":"center","titleBaseline":"alphabetic"}}
 }},
{"data":{"name":"shallow"},
 "mark":{"type":"line","color":"#ff0000","strokeWidth":4,"clip":true,"strokeJoin":"round"},
 "encoding":{
  "x":{"field":"t","type":"quantitative","scale":{"domain":[248.825,259.248],"nice":false,"zero":false},
   "axis":{"orient":"top","values":[249,250,251,252,253,254,255,256,257,258,259],"labels":false,"title":null,"grid":false,
    "tickSize":14,"tickWidth":3,"tickColor":"black","domainColor":"black","domainWidth":3.5}},
  "y":{"field":"v","type":"quantitative","scale":{"domain":[40,100],"nice":false,"zero":false},
   "axis":{"orient":"right","values":[40,50,60,70,80,90,100],"labels":false,"title":null,"grid":false,
    "tickSize":15,"tickWidth":3,"tickColor":"black","domainColor":"black","domainWidth":4}}
 }},
{"data":{"name":"labels"},
 "transform":[{"filter":"datum.kind == 'depth'"}],
 "mark":{"type":"text","font":"Liberation Serif","fontWeight":"bold","fontSize":54,"align":"center","baseline":"alphabetic","color":"black"},
 "encoding":{
  "x":{"field":"t","type":"quantitative","scale":{"domain":[248.825,259.248],"nice":false,"zero":false},"axis":null},
  "y":{"field":"v","type":"quantitative","scale":{"domain":[40,100],"nice":false,"zero":false},"axis":null},
  "text":{"field":"label","type":"nominal"}
 }},
{"data":{"name":"labels"},
 "transform":[{"filter":"datum.kind == 'note'"}],
 "mark":{"type":"text","font":"Liberation Sans","fontSize":22,"align":"center","baseline":"alphabetic","color":"black"},
 "encoding":{
  "x":{"field":"t","type":"quantitative","scale":{"domain":[248.825,259.248],"nice":false,"zero":false},"axis":null},
  "y":{"field":"v","type":"quantitative","scale":{"domain":[40,100],"nice":false,"zero":false},"axis":null},
  "text":{"field":"label","type":"nominal"}
 }}
],
"resolve":{"axis":{"x":"independent","y":"independent"}}
}
